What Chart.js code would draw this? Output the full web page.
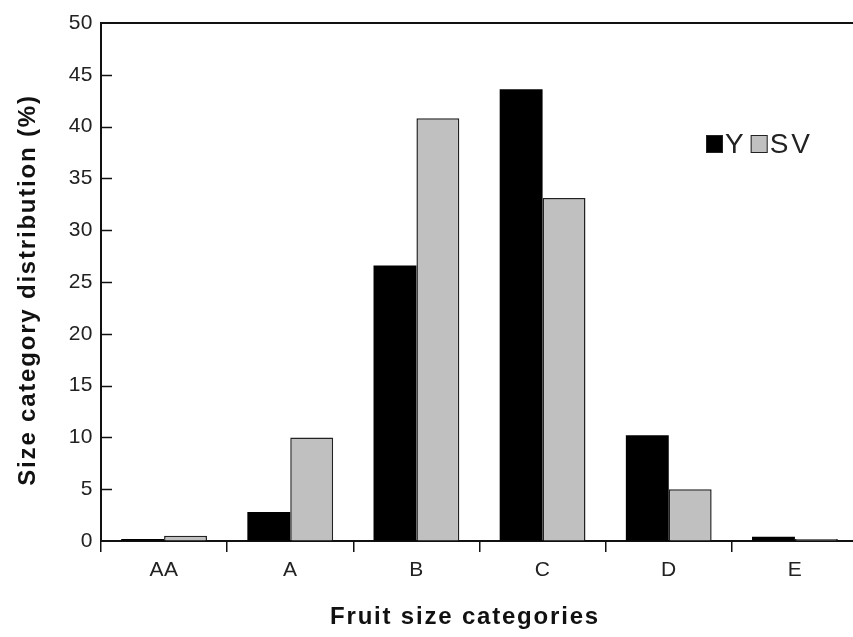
<!DOCTYPE html>
<html>
<head>
<meta charset="utf-8">
<script src="https://cdn.jsdelivr.net/npm/chart.js@4.4.1/dist/chart.umd.min.js"></script>
<style>
  html, body { margin: 0; padding: 0; background: #fff; overflow: hidden; }
  #wrap { width: 872px; height: 637px; }
</style>
</head>
<body>
<div id="wrap"><canvas id="chart" width="872" height="637"></canvas></div>
<script>
/* Data */
const categories = ["AA", "A", "B", "C", "D", "E"];
const seriesY = [0.2, 2.8, 26.6, 43.6, 10.2, 0.4];
const seriesSV = [0.5, 10.0, 40.8, 33.1, 5.0, 0.2];
const yTicks = [0, 5, 10, 15, 20, 25, 30, 35, 40, 45, 50];

const xTitle = "Fruit size categories";
const yTitle = "Size category distribution (%)";

const FONT = "'Liberation Sans', Arial, sans-serif";

/* The source figure's lettering is spaced out a little */
const spacingPlugin = {
  id: "spacing",
  beforeDraw(chart) { chart.ctx.letterSpacing = "0.5px"; }
};

/* Frame, inward y ticks, axis titles and the inline legend */
const framePlugin = {
  id: "frame",
  afterDraw(chart) {
    const ctx = chart.ctx;
    const a = chart.chartArea;
    const y = chart.scales.y;
    ctx.save();
    ctx.strokeStyle = "#111";
    ctx.lineWidth = 2;
    ctx.beginPath();
    ctx.moveTo(a.left, a.top);
    ctx.lineTo(a.right + 20, a.top);
    ctx.stroke();
    ctx.lineWidth = 1.5;
    for (const v of yTicks) {
      if (v === 0 || v === 50) continue;
      const py = Math.round(y.getPixelForValue(v)) + 0.5;
      ctx.beginPath();
      ctx.moveTo(a.left, py);
      ctx.lineTo(a.left + 11, py);
      ctx.stroke();
    }

    /* axis titles */
    ctx.font = "bold 24px " + FONT;
    ctx.letterSpacing = "1.8px";
    ctx.fillStyle = "#111";
    ctx.textAlign = "center";
    ctx.textBaseline = "middle";
    ctx.fillText(xTitle, 465, 617);
    ctx.save();
    ctx.translate(28, 290);
    ctx.rotate(-Math.PI / 2);
    ctx.fillText(yTitle, 0, 0);
    ctx.restore();

    /* legend: filled squares followed by dataset labels */
    ctx.font = "28px " + FONT;
    ctx.letterSpacing = "3px";
    ctx.textAlign = "left";
    ctx.textBaseline = "middle";
    let lx = 706;
    const ly = 144;
    chart.data.datasets.forEach(ds => {
      ctx.fillStyle = ds.backgroundColor;
      ctx.fillRect(lx, ly - 9, 17, 18);
      ctx.strokeStyle = "#222";
      ctx.lineWidth = 1;
      ctx.strokeRect(lx + 0.5, ly - 8.5, 16, 17);
      ctx.fillStyle = "#222";
      ctx.fillText(ds.label, lx + 19, ly + 1);
      lx += 19 + ctx.measureText(ds.label).width + 4;
    });
    ctx.restore();
  }
};

new Chart(document.getElementById("chart"), {
  type: "bar",
  data: {
    labels: categories,
    datasets: [
      { label: "Y", data: seriesY, backgroundColor: "#000000", borderWidth: 0 },
      { label: "SV", data: seriesSV, backgroundColor: "#c0c0c0", borderColor: "#222", borderWidth: 1.5 }
    ]
  },
  options: {
    responsive: false,
    animation: false,
    layout: { padding: { left: 0, right: 14, top: 23, bottom: 0 } },
    plugins: { legend: { display: false }, tooltip: { enabled: false } },
    datasets: { bar: { categoryPercentage: 0.68, barPercentage: 1.0 } },
    scales: {
      x: {
        offset: true,
        grid: { offset: true, drawOnChartArea: false, tickLength: 11, color: "#111", lineWidth: 1.5 },
        border: { display: true, color: "#111", width: 2 },
        ticks: { color: "#222", font: { family: FONT, size: 21 }, padding: 6 },
        title: { display: false },
        afterFit(scale) { scale.height = 96; }
      },
      y: {
        min: 0, max: 50,
        afterBuildTicks(scale) { scale.ticks = yTicks.map(v => ({ value: v })); },
        grid: { drawOnChartArea: false, drawTicks: false },
        border: { display: true, color: "#111", width: 2 },
        ticks: { color: "#222", font: { family: FONT, size: 21 }, padding: 8 },
        title: { display: false },
        afterFit(scale) { scale.width = 101; }
      }
    }
  },
  plugins: [spacingPlugin, framePlugin]
});
</script>
</body>
</html>
